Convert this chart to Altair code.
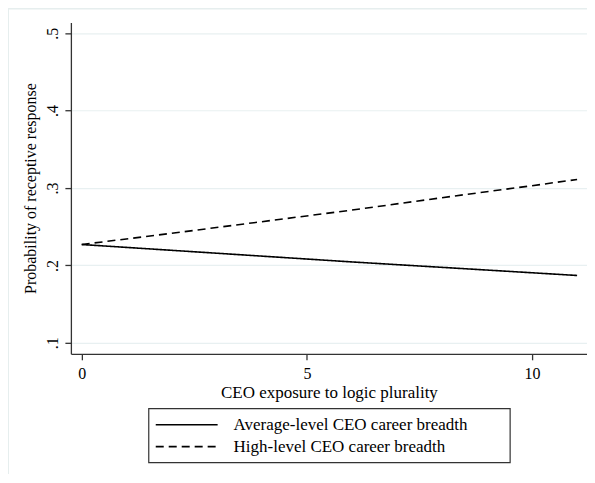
import altair as alt
import pandas as pd

x_vals = [0, 2, 4, 6, 8, 10, 11]
avg_vals = [0.227, 0.2195, 0.212, 0.2045, 0.1975, 0.1905, 0.187]
high_vals = [0.227, 0.2415, 0.2565, 0.2715, 0.2875, 0.303, 0.311]
series_names = ["Average-level CEO career breadth", "High-level CEO career breadth"]
y_ticks = [0.1, 0.2, 0.3, 0.4, 0.5]
x_ticks = [0, 5, 10]

rows = []
for xv, a, h in zip(x_vals, avg_vals, high_vals):
    rows.append({"x": xv, "y": a, "series": series_names[0]})
    rows.append({"x": xv, "y": h, "series": series_names[1]})
df = pd.DataFrame(rows)

FONT = "Liberation Serif"
W, H = 517, 332

xs = alt.Scale(domain=[-0.24, 11.22], nice=False, zero=False)
ys = alt.Scale(domain=[0.0858, 0.514], nice=False, zero=False)

lines = alt.Chart(df).mark_line(color="black", strokeWidth=1.6).encode(
    x=alt.X("x:Q", scale=xs,
            axis=alt.Axis(values=x_ticks, format="d", title="CEO exposure to logic plurality",
                          grid=False, tickSize=6, labelPadding=6, titlePadding=3,
                          labelFontSize=16, titleFontSize=17)),
    y=alt.Y("y:Q", scale=ys,
            axis=alt.Axis(values=y_ticks, title="Probability of receptive response",
                          labelExpr="replace(format(datum.value, '.1f'), '0.', '.')",
                          grid=True, gridColor="#e8f0f1", gridWidth=1.2,
                          tickSize=6, labelAngle=-90, labelAlign="center",
                          labelBaseline="bottom", labelPadding=4, titlePadding=6,
                          labelFontSize=16, titleFontSize=16)),
    strokeDash=alt.StrokeDash("series:N",
                              scale=alt.Scale(domain=series_names, range=[[1, 0], [8, 5]]),
                              legend=None),
)

# manual legend (Stata-style box)
one = pd.DataFrame({"a": [0]})
leg_box = alt.Chart(one).mark_rect(
    fill="white", stroke="#333333", strokeWidth=1.2, clip=False
).encode(x=alt.value(78), x2=alt.value(440), y=alt.value(387), y2=alt.value(441))

leg_line1 = alt.Chart(one).mark_rule(
    color="black", strokeWidth=1.6, clip=False
).encode(x=alt.value(85), x2=alt.value(147), y=alt.value(403))
leg_line2 = alt.Chart(one).mark_rule(
    color="black", strokeWidth=1.6, strokeDash=[8, 5], clip=False
).encode(x=alt.value(85), x2=alt.value(147), y=alt.value(425))

leg_text1 = alt.Chart(one).mark_text(
    font=FONT, fontSize=17, align="left", baseline="middle", color="black", clip=False
).encode(x=alt.value(163), y=alt.value(403), text=alt.value(series_names[0]))
leg_text2 = alt.Chart(one).mark_text(
    font=FONT, fontSize=17, align="left", baseline="middle", color="black", clip=False
).encode(x=alt.value(163), y=alt.value(425), text=alt.value(series_names[1]))

# outer light frame
frame_top = alt.Chart(one).mark_rule(
    color="#e6eeee", strokeWidth=2, clip=False
).encode(x=alt.value(-63), x2=alt.value(530), y=alt.value(-14))
frame_left = alt.Chart(one).mark_rule(
    color="#e6eeee", strokeWidth=2, clip=False
).encode(x=alt.value(-63), y=alt.value(-14), y2=alt.value(470))

chart = alt.layer(
    frame_top, frame_left, lines, leg_box, leg_line1, leg_line2, leg_text1, leg_text2
).properties(
    width=W, height=H,
    autosize=alt.AutoSizeParams(type="none"),
    padding={"left": 63, "top": 14, "right": 0, "bottom": 120},
    background="white",
).configure_view(strokeWidth=0).configure_axis(
    labelFont=FONT, titleFont=FONT, titleFontWeight="normal",
    labelColor="black", titleColor="black",
    domainColor="#333333", tickColor="#333333", domainWidth=1.3, tickWidth=1.3,
)

chart.save("out.html", embed_options={"renderer": "svg", "actions": False})
